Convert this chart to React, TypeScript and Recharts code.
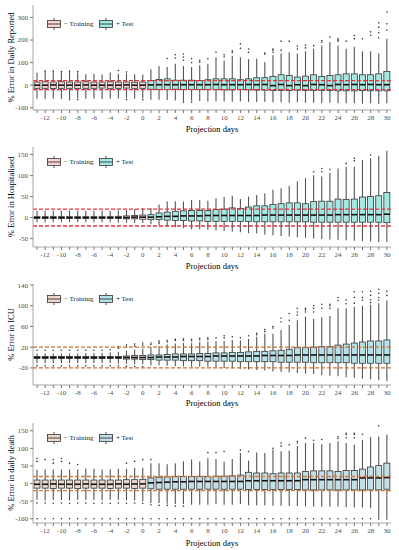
import { ComposedChart, Bar, XAxis, YAxis, ReferenceLine } from "recharts"

const FONT = '"Liberation Serif", "Times New Roman", serif'

const days = [-13, -12, -11, -10, -9, -8, -7, -6, -5, -4, -3, -2, -1, 0, 1, 2, 3, 4, 5, 6, 7, 8, 9, 10, 11, 12, 13, 14, 15, 16, 17, 18, 19, 20, 21, 22, 23, 24, 25, 26, 27, 28, 29, 30]

// daily reported
const repTicks = [-100, -50, 0, 50, 100, 150, 200, 250, 300]
const repLo = [-60, -61, -60, -61, -60, -58, -60, -60, -61, -60, -59, -58, -60, -58, -65, -65, -66, -68, -70, -68, -70, -72, -72, -72, -74, -72, -74, -75, -75, -76, -76, -78, -76, -78, -78, -80, -78, -80, -80, -80, -82, -80, -82, -80]
const repQ1 = [-14, -14, -15, -14, -14, -15, -14, -14, -13, -14, -14, -13, -14, -14, -18, -19, -19, -18, -19, -19, -19, -20, -20, -21, -21, -20, -21, -22, -22, -24, -24, -24, -22, -24, -24, -23, -24, -25, -25, -25, -24, -25, -25, -25]
const repMed = [0, 0, 1, 0, 0, 0, 1, 0, 0, 0, 0, 1, 0, 0, 1, 2, 2, 2, 2, 2, 2, 2, 3, 2, 2, 2, 3, 2, 3, -2, 3, -2, 2, -2, 3, 2, -2, 3, 2, 3, 2, 3, 2, 2]
const repQ3 = [14, 15, 14, 15, 14, 14, 15, 14, 14, 15, 14, 14, 13, 14, 21, 25, 28, 22, 22, 22, 21, 24, 28, 28, 28, 24, 28, 33, 33, 39, 46, 43, 36, 40, 46, 39, 43, 46, 50, 50, 46, 46, 50, 61]
const repHi = [55, 58, 57, 58, 58, 56, 48, 50, 47, 56, 50, 52, 48, 47, 70, 85, 80, 95, 85, 80, 88, 95, 124, 109, 130, 124, 115, 117, 102, 132, 140, 146, 140, 150, 161, 176, 191, 176, 161, 170, 150, 150, 140, 206]
const repOut = [
  [], [62], [62], [60], [62, -64], [60, -64], [], [], [], [], [65], [58, -64], [], [-64],
  [], [], [118], [120, 135], [110, 125, 138, -75], [100, 118, -75], [102, 110], [117], [146], [125, 135],
  [145, 152], [163, 183], [145, 160], [], [137, 142], [146, 155, 160], [155, 195], [195], [160, 173], [165, 178],
  [175], [190, 198], [213], [195, 200, 205], [195], [205, 220], [205], [221, 236], [210, 232, 257, 276], [244, 272, 324],
]

// hospitalised
const hospTicks = [-50, -25, 0, 25, 50, 75, 100, 125, 150]
const hospLo = [-11, -11, -11, -11, -11, -11, -11, -11, -11, -11, -12, -12, -13, -13, -16, -19, -21, -23, -25, -28, -28, -29, -31, -32, -33, -35, -37, -38, -40, -42, -44, -45, -47, -48, -50, -51, -52, -53, -54, -55, -56, -57, -58, -58]
const hospQ1 = [-2, -2, -2, -2, -2, -2, -2, -2, -2, -2, -2, -3, -3, -4, -5, -5, -6, -7, -7, -8, -8, -9, -9, -9, -9, -9, -9, -10, -10, -10, -10, -10, -10, -10, -11, -11, -11, -11, -11, -11, -11, -11, -11, -12]
const hospMed = [0, 0, 0, 0, 0, 0, 0, 0, 0, 0, 0, 0, 1, 1, 1, 2, 3, 3, 4, 4, 4, 5, 5, 5, 5, 5, 5, 5, 6, 6, 6, 6, 6, 6, 6, 6, 6, 7, 7, 7, 7, 7, 7, 8]
const hospQ3 = [2, 2, 2, 2, 2, 2, 2, 2, 2, 2, 3, 4, 5, 6, 7, 11, 13, 15, 16, 17, 17, 17, 19, 20, 23, 22, 25, 28, 28, 31, 33, 35, 35, 33, 38, 39, 39, 44, 43, 44, 49, 50, 52, 60]
const hospHi = [16, 16, 16, 16, 16, 16, 16, 16, 16, 16, 16, 18, 20, 22, 23, 31, 38, 39, 38, 42, 42, 40, 46, 49, 52, 44, 50, 54, 58, 66, 70, 76, 86, 94, 101, 98, 106, 117, 121, 121, 137, 141, 147, 159]
const hospOut = [
  [], [], [], [], [], [], [], [], [], [], [], [], [], [],
  [], [], [], [], [], [], [], [], [], [],
  [], [], [], [], [], [], [], [], [], [],
  [109], [109, 117], [115], [], [129], [135, 141], [], [149], [], [],
]

// ICU
const icuTicks = [-40, -20, 0, 20, 40, 60, 80, 100, 120, 140]
const icuLo = [-11, -11, -11, -11, -11, -11, -11, -11, -11, -11, -12, -12, -13, -13, -15, -15, -16, -17, -17, -18, -18, -18, -19, -20, -21, -22, -23, -24, -25, -27, -28, -29, -30, -31, -32, -34, -35, -36, -38, -39, -41, -42, -44, -46]
const icuQ1 = [-2, -2, -2, -2, -2, -2, -2, -2, -2, -2, -2, -3, -3, -4, -4, -5, -5, -5, -6, -6, -6, -7, -7, -7, -7, -8, -8, -8, -8, -8, -9, -9, -9, -9, -10, -10, -10, -10, -10, -11, -11, -11, -11, -11]
const icuMed = [0, 0, 0, 0, 0, 0, 0, 0, 0, 0, 0, 0, 0, 0, 0, 1, 1, 1, 2, 2, 2, 2, 3, 3, 3, 3, 3, 3, 4, 4, 4, 4, 5, 5, 5, 5, 5, 5, 5, 5, 5, 5, 5, 5]
const icuQ3 = [2, 2, 2, 2, 2, 2, 2, 2, 2, 2, 2, 3, 4, 4, 5, 5, 6, 7, 7, 7, 8, 8, 9, 9, 10, 10, 11, 12, 12, 13, 14, 16, 19, 19, 20, 21, 21, 24, 26, 28, 30, 32, 32, 34]
const icuHi = [8, 8, 8, 8, 8, 8, 9, 9, 9, 10, 11, 13, 15, 17, 20, 22, 25, 27, 28, 28, 30, 31, 32, 32, 34, 33, 36, 40, 46, 46, 53, 63, 72, 79, 75, 78, 80, 95, 95, 98, 100, 102, 105, 110]
const icuOut = [
  [14, -16], [14, -16], [14, -16], [14, -16], [14, -16], [14, -16], [14, -16], [14, -16], [14, -16], [15, -16],
  [18, 21, -16], [20, 24, -17], [22, 26, -17], [24, 28, -18],
  [25, 28], [27, 30, 32], [30, 33], [33, 35], [33, 36], [32, 35], [34, 37], [35, 38], [38], [38, 42],
  [40], [38], [42], [44, 47], [50, 54], [57, 60], [69, 76], [72, 85], [82, 88, 95], [88, 92, 95],
  [88, 95, 100], [95, 103], [95, 100, 103], [110, 116], [104, 111], [105, 116, 127], [111, 116, 127], [106, 111, 120, 128], [111, 116, 124, 132], [120, 128],
]

// daily death
const deathTicks = [-100, -75, -50, -25, 0, 25, 50, 75, 100, 125, 150]
const deathLo = [-46, -48, -47, -47, -48, -46, -47, -47, -48, -46, -46, -48, -48, -50, -55, -55, -57, -58, -58, -60, -60, -60, -58, -60, -60, -58, -62, -62, -62, -63, -63, -64, -64, -65, -65, -66, -66, -65, -67, -68, -68, -70, -103, -103]
const deathQ1 = [-13, -13, -14, -13, -13, -14, -13, -13, -13, -14, -13, -13, -14, -13, -15, -16, -16, -16, -16, -16, -16, -16, -16, -16, -16, -16, -17, -17, -17, -17, -17, -17, -17, -18, -18, -18, -18, -18, -18, -18, -18, -18, -18, -16]
const deathMed = [-2, -2, -1, -2, -2, -2, -1, -2, -2, -2, -1, -2, -1, -1, 2, 3, 4, 5, 5, 6, 6, 6, 6, 6, 6, 6, 8, 8, 8, 8, 8, 8, 8, 11, 11, 11, 11, 11, 11, 11, 16, 16, 16, 17]
const deathQ3 = [10, 10, 10, 10, 10, 10, 10, 10, 10, 10, 10, 11, 11, 12, 16, 18, 19, 20, 20, 20, 20, 20, 21, 21, 22, 24, 32, 30, 30, 28, 30, 30, 30, 34, 36, 36, 36, 34, 37, 37, 41, 47, 51, 58]
const deathHi = [39, 40, 40, 40, 40, 40, 43, 42, 40, 41, 42, 42, 44, 45, 58, 58, 55, 58, 63, 68, 63, 72, 70, 62, 70, 87, 65, 88, 87, 96, 92, 94, 107, 115, 115, 112, 115, 120, 115, 110, 124, 132, 134, 139]
const deathOut = [
  [72, 63, -55, -100], [68, -55, -100], [68, 58, -56, -100], [72, 63, -55, -100], [58, -56, -100], [54, -55, -100], [-55, -100],
  [-56, -100], [-55, -100], [-56, -100], [-55, -100], [58, -56, -100], [63, -55, -100], [68, -56, -100],
  [68, -60, -100], [-62, -100], [-62, -100], [-64, -100], [-64, -100], [-100], [-100], [88, -100], [88, -100], [91, -100],
  [-100], [95, -100], [91, -100], [-100], [-100], [100, -100], [107, 115, -100], [110, -100], [115, 120, -100], [129, -100],
  [123, -100], [125, -100], [-100], [128, 133, -100], [130, 139, 143, -100], [130, 139, 143, -100], [140, -100], [-100], [164], [],
]

const panels = [
  { label: "% Error in Daily Reported", lo: repLo, q1: repQ1, med: repMed, q3: repQ3, hi: repHi, out: repOut, ticks: repTicks, domain: [-110, 355], train: "#f9d3d1", test: "#a3e9e3", dash: "#e3343e", top: 0, height: 136, mt: 5, xh: 26, legendTop: 18 },
  { label: "% Error in Hospitalised", lo: hospLo, q1: hospQ1, med: hospMed, q3: hospQ3, hi: hospHi, out: hospOut, ticks: hospTicks, domain: [-70, 168], train: "#f9d3d1", test: "#a3e9e3", dash: "#e3343e", top: 136, height: 137, mt: 11, xh: 26, legendTop: 20 },
  { label: "% Error in ICU", lo: icuLo, q1: icuQ1, med: icuMed, q3: icuQ3, hi: icuHi, out: icuOut, ticks: icuTicks, domain: [-53, 142], train: "#f2d6cf", test: "#b3e2ea", dash: "#cc7038", top: 273, height: 137, mt: 11, xh: 25, legendTop: 20 },
  { label: "% Error in daily death", lo: deathLo, q1: deathQ1, med: deathMed, q3: deathQ3, hi: deathHi, out: deathOut, ticks: deathTicks, domain: [-112, 172], train: "#eedacd", test: "#c3e0ea", dash: "#d07a3c", top: 410, height: 140, mt: 13, xh: 27, legendTop: 22 },
]

const BoxShape = (props: any) => {
  const { x, y, width, height, payload, train, test } = props
  const [lo, hi] = payload.range
  const top = Math.min(y, y + height)
  const h = Math.abs(height)
  const py = (v: number) => top + ((hi - v) / (hi - lo)) * h
  const cx = x + width / 2
  const fill = payload.day <= 0 ? train : test
  return (
    <g>
      <line x1={cx} x2={cx} y1={py(hi)} y2={py(payload.q3)} stroke="#555" strokeWidth={1.1} />
      <line x1={cx} x2={cx} y1={py(payload.q1)} y2={py(lo)} stroke="#555" strokeWidth={1.1} />
      <rect x={x} y={py(payload.q3)} width={width} height={py(payload.q1) - py(payload.q3)} fill={fill} stroke="#333" strokeWidth={0.8} />
      <line x1={x} x2={x + width} y1={py(payload.med)} y2={py(payload.med)} stroke="#111" strokeWidth={1.6} />
      {payload.out.map((v: number, i: number) => (
        <circle key={i} cx={cx} cy={py(v)} r={0.8} fill="#333" />
      ))}
    </g>
  )
}

const LegendIcon = ({ fill }: { fill: string }) => (
  <svg width={14} height={12} style={{ display: "block" }}>
    <line x1={7} x2={7} y1={0} y2={2.5} stroke="#555" />
    <rect x={0.5} y={2.5} width={13} height={7} fill={fill} stroke="#333" strokeWidth={0.8} />
    <line x1={0.5} x2={13.5} y1={6} y2={6} stroke="#333" strokeWidth={0.9} />
    <line x1={7} x2={7} y1={9.5} y2={12} stroke="#555" />
  </svg>
)

function Panel({ p }: { p: (typeof panels)[number] }) {
  const data = days.map((d, i) => ({
    day: d,
    range: [p.lo[i], p.hi[i]],
    q1: p.q1[i],
    med: p.med[i],
    q3: p.q3[i],
    out: p.out[i],
  }))
  const frame = "#a6a6a6"
  const tick = { fontSize: 7, fill: "#4d4d4d", fontFamily: FONT }
  return (
    <div style={{ position: "absolute", left: 0, top: p.top, width: 399, height: p.height }}>
      <ComposedChart width={399} height={p.height} data={data} margin={{ top: p.mt, right: 8, bottom: 0, left: 0 }}>
        <XAxis
          dataKey="day"
          type="category"
          interval={0}
          height={p.xh}
          tickSize={3}
          tick={tick}
          tickFormatter={(d: number) => (d % 2 === 0 ? String(d) : "")}
          axisLine={{ stroke: frame }}
          tickLine={{ stroke: "#777" }}
          label={{ value: "Projection days", position: "insideBottom", offset: 4, fontSize: 8.5, fill: "#000", fontFamily: FONT }}
        />
        <XAxis xAxisId="top" orientation="top" dataKey="day" height={0} tick={false} tickLine={false} axisLine={{ stroke: frame }} />
        <YAxis
          type="number"
          domain={p.domain}
          ticks={p.ticks}
          allowDataOverflow
          width={33}
          tickSize={3}
          tick={tick}
          axisLine={{ stroke: frame }}
          tickLine={{ stroke: "#777" }}
          label={{ value: p.label, angle: -90, position: "center", dx: -6, fontSize: 8.5, fill: "#000", fontFamily: FONT }}
        />
        <YAxis yAxisId="right" orientation="right" type="number" domain={p.domain} width={0} tick={false} tickLine={false} axisLine={{ stroke: frame }} />
        <Bar
          dataKey="range"
          barSize={6}
          isAnimationActive={false}
          shape={(sp: any) => <BoxShape {...sp} train={p.train} test={p.test} />}
        />
        <ReferenceLine y={20} stroke={p.dash} strokeWidth={1.3} strokeDasharray="4 2" />
        <ReferenceLine y={-20} stroke={p.dash} strokeWidth={1.3} strokeDasharray="4 2" />
      </ComposedChart>
      <div style={{ position: "absolute", left: 0, top: p.legendTop, fontFamily: FONT, fontSize: 7, color: "#222" }}>
        <div style={{ position: "absolute", left: 47, top: 0 }}>
          <LegendIcon fill={p.train} />
        </div>
        <div style={{ position: "absolute", left: 64, top: 1, whiteSpace: "nowrap", lineHeight: "10px" }}>− Training</div>
        <div style={{ position: "absolute", left: 99, top: 0 }}>
          <LegendIcon fill={p.test} />
        </div>
        <div style={{ position: "absolute", left: 116, top: 1, whiteSpace: "nowrap", lineHeight: "10px" }}>+ Test</div>
      </div>
    </div>
  )
}

export default function App() {
  return (
    <div style={{ position: "absolute", left: 0, top: 0, width: 399, height: 550, background: "#fff" }}>
      {panels.map((p) => (
        <Panel key={p.label} p={p} />
      ))}
    </div>
  )
}
